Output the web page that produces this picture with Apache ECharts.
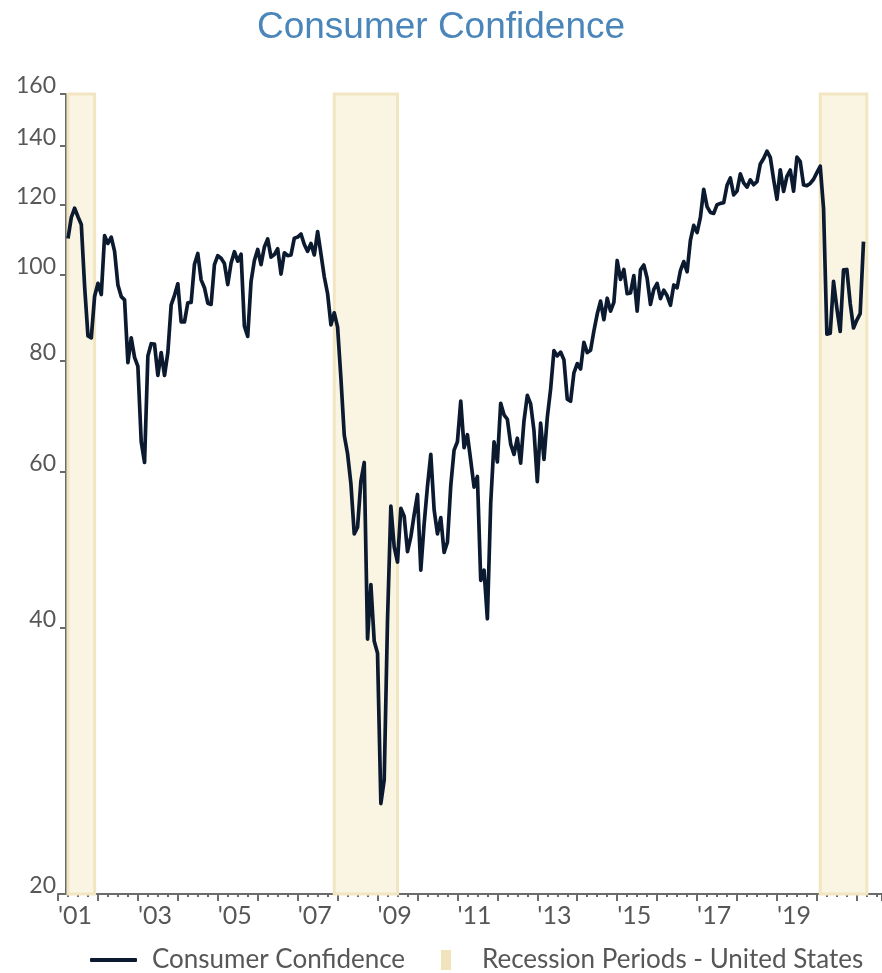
<!DOCTYPE html>
<html>
<head>
<meta charset="utf-8">
<title>Consumer Confidence</title>
<script src="https://cdn.jsdelivr.net/npm/echarts@6/dist/echarts.min.js"></script>
<style>
  html, body { margin: 0; padding: 0; background: #fff; }
  #chart { width: 882px; height: 973px; }
</style>
</head>
<body>
<div id="chart"></div>
<script>
// Conference Board consumer confidence, monthly, first value is Apr 2001
const firstMonth = '2001-04';
const confidence = [
  109.9, 116.1, 118.9, 116.3, 114.0, 97.0, 85.3, 84.9, 94.6,
  97.8, 95.0, 110.7, 108.5, 110.3, 106.3, 97.4, 94.5, 93.7, 79.6, 84.9, 80.7,
  78.8, 64.8, 61.4, 81.0, 83.6, 83.5, 77.0, 81.7, 77.0, 81.7, 92.5, 94.8,
  97.7, 88.5, 88.5, 93.0, 93.1, 102.8, 105.7, 98.7, 96.7, 92.9, 92.6, 102.7,
  105.1, 104.4, 103.0, 97.5, 103.1, 106.2, 103.6, 105.5, 87.5, 85.2, 98.3, 103.8,
  106.8, 102.7, 107.5, 109.8, 104.7, 105.4, 107.0, 100.2, 105.9, 105.1, 105.3, 110.0,
  110.3, 111.2, 108.2, 106.3, 108.5, 105.3, 111.9, 105.6, 99.5, 95.2, 87.8, 90.6,
  87.3, 76.4, 65.9, 62.8, 58.1, 51.0, 51.9, 58.5, 61.4, 38.8, 44.7, 38.6,
  37.4, 25.3, 26.9, 40.8, 54.8, 49.3, 47.4, 54.5, 53.4, 48.7, 50.6, 53.6,
  56.5, 46.4, 52.3, 57.7, 62.7, 54.3, 51.0, 53.2, 48.6, 49.9, 57.8, 63.4,
  64.8, 72.0, 63.8, 66.0, 61.7, 57.6, 59.2, 45.2, 46.4, 40.9, 55.2, 64.8,
  61.5, 71.6, 69.5, 68.7, 64.4, 62.7, 65.4, 61.3, 68.4, 73.1, 71.5, 66.7,
  58.4, 68.0, 61.9, 69.0, 74.3, 82.1, 81.0, 81.8, 80.2, 72.4, 72.0, 77.5,
  79.4, 78.3, 83.9, 81.7, 82.2, 86.4, 90.3, 93.4, 89.0, 94.1, 91.0, 93.1,
  103.8, 98.8, 101.4, 95.2, 95.4, 99.8, 91.0, 101.3, 102.6, 99.1, 92.6, 96.3,
  97.8, 94.0, 96.1, 94.7, 92.4, 97.4, 96.7, 101.1, 103.5, 100.8, 109.4, 113.7,
  111.6, 116.1, 124.9, 119.4, 117.6, 117.3, 120.0, 120.4, 120.6, 126.2, 128.6, 123.1,
  124.3, 130.0, 127.0, 125.6, 128.0, 126.4, 127.4, 133.4, 135.3, 137.9, 135.7, 128.1,
  121.7, 131.4, 124.2, 129.2, 131.3, 124.3, 135.8, 134.2, 126.3, 126.1, 126.8, 128.2,
  130.4, 132.6, 118.8, 85.7, 85.9, 98.3, 91.7, 86.3, 101.3, 101.4, 92.9, 87.1,
  88.9, 90.4, 109.0
];

const recessions = [
  ['2001-03', '2001-11'],
  ['2007-12', '2009-06'],
  ['2020-02', '2021-03']
];

const yTicks = [20, 40, 60, 80, 100, 120, 140, 160];
const labelYears = [2001, 2003, 2005, 2007, 2009, 2011, 2013, 2015, 2017, 2019];

// 'YYYY-MM' -> fractional year
function toYear(s) {
  const [y, m] = s.split('-').map(Number);
  return y + (m - 1) / 12;
}

const start = toYear(firstMonth);
const lineData = confidence.map((v, i) => [start + i / 12, Math.log(v)]);
const bands = recessions.map(([a, b]) => [
  { xAxis: Math.max(toYear(a), start) },
  { xAxis: toYear(b) + 1 / 12 }
]);

const axisGrey = '#6b6b6b';
const textGrey = '#575757';

const chart = echarts.init(document.getElementById('chart'));
chart.setOption({
  animation: false,
  title: {
    text: 'Consumer Confidence',
    left: 'center',
    top: 4,
    textStyle: {
      fontFamily: 'Liberation Sans',
      fontSize: 37,
      fontWeight: 'normal',
      color: '#4a86ba'
    }
  },
  legend: [
    {
      data: [{ name: 'Consumer Confidence', icon: 'roundRect' }],
      left: 90,
      top: 947,
      padding: 0,
      itemWidth: 47,
      itemHeight: 4,
      textStyle: { fontFamily: 'Lato', fontSize: 26, color: textGrey, padding: [0, 0, 0, 10] }
    },
    {
      data: [{ name: 'Recession Periods - United States', icon: 'rect' }],
      left: 441,
      top: 947,
      padding: 0,
      itemWidth: 10,
      itemHeight: 20,
      textStyle: { fontFamily: 'Lato', fontSize: 26, color: textGrey, padding: [0, 0, 0, 26] }
    }
  ],
  grid: { left: 58, right: 0, top: 94, bottom: 79, containLabel: false, outerBoundsMode: 'none' },
  xAxis: {
    type: 'value',
    min: 2001,
    max: 2021.63,
    interval: 1,
    splitLine: { show: false },
    axisLine: { lineStyle: { color: axisGrey, width: 2 } },
    axisTick: { length: 7, lineStyle: { color: axisGrey, width: 2 } },
    minorTick: { show: true, splitNumber: 4, length: 3, lineStyle: { color: axisGrey, width: 2 } },
    axisLabel: {
      showMaxLabel: false,
      align: 'left',
      margin: 9,
      fontFamily: 'Lato',
      fontSize: 25,
      color: textGrey,
      formatter: v => labelYears.includes(v) ? "'" + String(v % 100).padStart(2, '0') : ''
    }
  },
  yAxis: {
    type: 'value',
    offset: -8,
    min: Math.log(20),
    max: Math.log(160),
    splitLine: { show: false },
    axisLine: { show: true, lineStyle: { color: axisGrey, width: 2 } },
    axisTick: { show: true, length: 6, customValues: yTicks.map(Math.log), lineStyle: { color: axisGrey, width: 2 } },
    axisLabel: {
      customValues: yTicks.map(Math.log),
      margin: 10,
      fontFamily: 'Lato',
      fontSize: 23,
      color: textGrey,
      verticalAlign: 'bottom',
      lineHeight: 16,
      formatter: v => String(Math.round(Math.exp(v)))
    }
  },
  series: [
    {
      name: 'Recession Periods - United States',
      type: 'line',
      data: [],
      z: 1,
      itemStyle: { color: '#f1e4bd' },
      lineStyle: { color: '#f1e4bd' },
      markArea: {
        silent: true,
        itemStyle: { color: '#faf4e3', borderColor: '#f2e6c2', borderWidth: 3 },
        data: bands
      }
    },
    {
      name: 'Consumer Confidence',
      type: 'line',
      data: lineData,
      z: 3,
      showSymbol: false,
      symbol: 'none',
      itemStyle: { color: '#0c1a30' },
      lineStyle: { color: '#0c1a30', width: 3.7, join: 'round' }
    }
  ]
});
</script>
</body>
</html>
